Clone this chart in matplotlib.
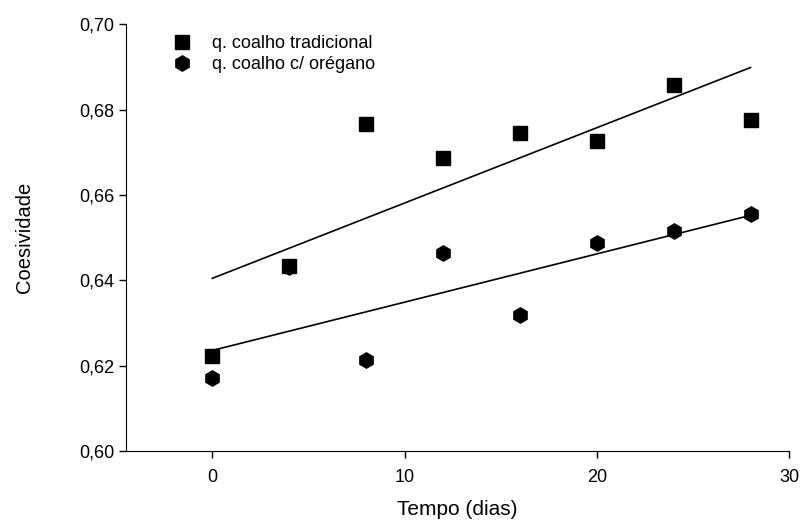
import numpy as np
import matplotlib.pyplot as plt
from matplotlib.ticker import FuncFormatter

plt.rcParams['font.family'] = ['Liberation Sans', 'DejaVu Sans']

dias = [0, 4, 8, 12, 16, 20, 24, 28]
tradicional = [0.6222, 0.6433, 0.6767, 0.6687, 0.6745, 0.6727, 0.6858, 0.6775]
oregano = [0.6170, 0.6430, 0.6212, 0.6463, 0.6318, 0.6488, 0.6515, 0.6555]

fig = plt.figure(figsize=(8.01, 5.2), dpi=100)
ax = fig.add_axes([0.157, 0.133, 0.828, 0.82])

x = np.array(dias)
# linear fits
for y in (tradicional, oregano):
    b, a = np.polyfit(x, y, 1)
    ax.plot([x.min(), x.max()], [a + b * x.min(), a + b * x.max()], color='black', lw=1.2)

ax.plot(x, oregano, 'h', color='black', ms=11, ls='none', label='q. coalho c/ orégano')
ax.plot(x, tradicional, 's', color='black', ms=10, ls='none', label='q. coalho tradicional')

ax.set_xlim(-4.5, 30)
ax.set_ylim(0.60, 0.70)
ax.set_xticks([0, 10, 20, 30])
ax.set_yticks([0.60, 0.62, 0.64, 0.66, 0.68, 0.70])
ax.yaxis.set_major_formatter(FuncFormatter(lambda v, p: f"{v:.2f}".replace('.', ',')))
ax.spines['top'].set_visible(False)
ax.spines['right'].set_visible(False)
ax.tick_params(direction='out', length=5, width=1, labelsize=13)
ax.tick_params(axis='y', pad=3)
ax.tick_params(axis='x', pad=8)
ax.set_xlabel('Tempo (dias)', fontsize=15, labelpad=10)
ax.set_ylabel('Coesividade', fontsize=14.5, labelpad=33)

h, l = ax.get_legend_handles_labels()
ax.legend(h[::-1], l[::-1], loc='upper left', bbox_to_anchor=(0.057, 0.975), frameon=False,
          fontsize=13, handlelength=2.0, handletextpad=0.7, labelspacing=0.22,
          borderpad=0, borderaxespad=0)

fig.savefig('out.png', dpi=100)
